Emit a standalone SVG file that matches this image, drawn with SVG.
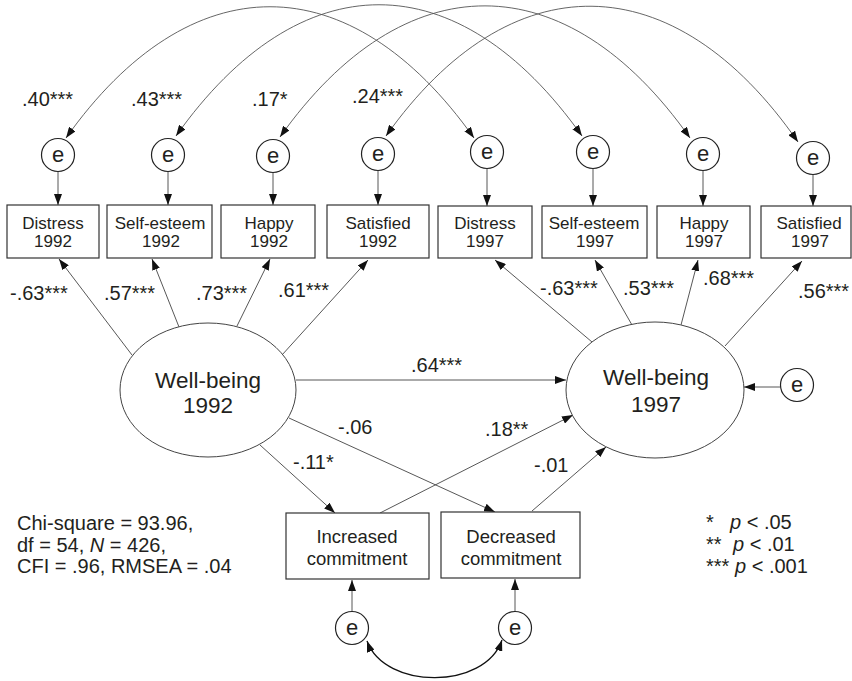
<svg xmlns="http://www.w3.org/2000/svg" width="852" height="681" viewBox="0 0 852 681">
<style>
text{font-family:"Liberation Sans",Arial,sans-serif;fill:#231f20}
.box{fill:#fff;stroke:#333;stroke-width:1.2}
.ell{fill:#fff;stroke:#444;stroke-width:1}
.err{fill:#fff;stroke:#222;stroke-width:1.2}
.bt{font-size:17px;text-anchor:middle}
.et{font-size:22.5px;text-anchor:middle}
.ct{font-size:18.5px;text-anchor:middle}
.lab{font-size:20px}
.e{font-size:22px;text-anchor:middle}
.ln{fill:none;stroke:#444;stroke-width:0.9;marker-end:url(#ah)}
.arc{fill:none;stroke:#555;stroke-width:0.9;marker-end:url(#ah);marker-start:url(#ahs)}
</style>
<defs>
<marker id="ah" viewBox="0 0 11 8" refX="11" refY="4" markerWidth="11" markerHeight="8" markerUnits="userSpaceOnUse" orient="auto"><path d="M0,0 L11,4 L0,8 z" fill="#111"/></marker>
<marker id="ahs" viewBox="0 0 11 8" refX="11" refY="4" markerWidth="11" markerHeight="8" markerUnits="userSpaceOnUse" orient="auto-start-reverse"><path d="M0,0 L11,4 L0,8 z" fill="#111"/></marker>
</defs>
<rect width="852" height="681" fill="#fff"/>

<g id="connectors">
<path class="arc" d="M66,138 C190,-37 350,-37 474,138"/>
<path class="arc" d="M176,136 C300,-39 458,-39 582,136"/>
<path class="arc" d="M280,137 C404,-38 566,-38 690,138"/>
<path class="arc" d="M386,136 C510,-39 674,-37 798,142"/>
<path class="ln" d="M58,171 L58,205"/>
<path class="ln" d="M168,171 L168,205"/>
<path class="ln" d="M273,172 L273,205"/>
<path class="ln" d="M378,170 L378,205"/>
<path class="ln" d="M487,169 L487,206"/>
<path class="ln" d="M593,168 L593,206"/>
<path class="ln" d="M703,171 L703,206"/>
<path class="ln" d="M813,175 L813,206"/>
<path class="ln" d="M132,355 L59,259"/>
<path class="ln" d="M179,327 L152,259"/>
<path class="ln" d="M237,326 L270,259"/>
<path class="ln" d="M282,355 L368,260"/>
<path class="ln" d="M592,342 L495,260"/>
<path class="ln" d="M632,325 L595,260"/>
<path class="ln" d="M681,325 L698,260"/>
<path class="ln" d="M725,346 L802,261"/>
<path class="ln" d="M296,380 L566,380"/>
<path class="ln" d="M780,387 L744,387"/>
<path class="ln" d="M289,418 L495,512"/>
<path class="ln" d="M260,445 L335,513"/>
<path class="ln" d="M380,513 L573,415"/>
<path class="ln" d="M532,511 L606,447"/>
<path class="ln" d="M352,612 L352,580"/>
<path class="ln" d="M515,612 L515,579"/>
<path d="M367,641 C385,690 485,690 502,640" fill="none" stroke="#111" stroke-width="1.3" marker-start="url(#ahs)" marker-end="url(#ah)"/>
</g>

<g id="e1"><circle class="err" cx="58" cy="155" r="16.5"/><text class="e" x="58" y="162">e</text></g>
<g id="e2"><circle class="err" cx="168" cy="155" r="16.5"/><text class="e" x="168" y="162">e</text></g>
<g id="e3"><circle class="err" cx="273" cy="156" r="16.5"/><text class="e" x="273" y="163">e</text></g>
<g id="e4"><circle class="err" cx="378" cy="154" r="16.5"/><text class="e" x="378" y="161">e</text></g>
<g id="e5"><circle class="err" cx="487" cy="152" r="16.5"/><text class="e" x="487" y="159">e</text></g>
<g id="e6"><circle class="err" cx="593" cy="152" r="16.5"/><text class="e" x="593" y="159">e</text></g>
<g id="e7"><circle class="err" cx="703" cy="154" r="16.5"/><text class="e" x="703" y="161">e</text></g>
<g id="e8"><circle class="err" cx="813" cy="158" r="16.5"/><text class="e" x="813" y="165">e</text></g>

<g id="distress1992"><rect class="box" x="7" y="205" width="92" height="53"/><text class="bt" x="53" y="229">Distress</text><text class="bt" x="53" y="247">1992</text></g>
<g id="selfesteem1992"><rect class="box" x="107" y="205" width="105" height="53"/><text class="bt" x="160" y="229">Self-esteem</text><text class="bt" x="161" y="247">1992</text></g>
<g id="happy1992"><rect class="box" x="221" y="205" width="94" height="53"/><text class="bt" x="269" y="229">Happy</text><text class="bt" x="269" y="247">1992</text></g>
<g id="satisfied1992"><rect class="box" x="327" y="205" width="102" height="53"/><text class="bt" x="378" y="229">Satisfied</text><text class="bt" x="378" y="247">1992</text></g>
<g id="distress1997"><rect class="box" x="438" y="206" width="94" height="52"/><text class="bt" x="485" y="229">Distress</text><text class="bt" x="485" y="247">1997</text></g>
<g id="selfesteem1997"><rect class="box" x="542" y="206" width="105" height="52"/><text class="bt" x="594" y="229">Self-esteem</text><text class="bt" x="595" y="247">1997</text></g>
<g id="happy1997"><rect class="box" x="657" y="206" width="93" height="52"/><text class="bt" x="704" y="229">Happy</text><text class="bt" x="704" y="247">1997</text></g>
<g id="satisfied1997"><rect class="box" x="761" y="206" width="90" height="52"/><text class="bt" x="809" y="229">Satisfied</text><text class="bt" x="810" y="247">1997</text></g>

<g id="wellbeing1992"><ellipse class="ell" cx="208" cy="390" rx="88" ry="67"/><text class="et" x="208" y="388">Well-being</text><text class="et" x="208" y="413">1992</text></g>
<g id="wellbeing1997"><ellipse class="ell" cx="655" cy="390" rx="89" ry="68"/><text class="et" x="656" y="385">Well-being</text><text class="et" x="656" y="412">1997</text></g>
<g id="e9"><circle class="err" cx="797" cy="385" r="16.5"/><text class="e" x="797" y="392">e</text></g>

<g id="increased"><rect class="box" x="286" y="513" width="143" height="66"/><text class="ct" x="357" y="543">Increased</text><text class="ct" x="357" y="565">commitment</text></g>
<g id="decreased"><rect class="box" x="441" y="512" width="139" height="66"/><text class="ct" x="511" y="543">Decreased</text><text class="ct" x="511" y="565">commitment</text></g>
<g id="e10"><circle class="err" cx="352" cy="628" r="16.5"/><text class="e" x="352" y="635">e</text></g>
<g id="e11"><circle class="err" cx="515" cy="628" r="16.5"/><text class="e" x="515" y="635">e</text></g>

<g id="labels" class="lab">
<text x="22" y="106">.40***</text>
<text x="131" y="106">.43***</text>
<text x="252" y="106">.17*</text>
<text x="352" y="103">.24***</text>
<text x="10" y="300">-.63***</text>
<text x="104" y="300">.57***</text>
<text x="196" y="300">.73***</text>
<text x="278" y="297">.61***</text>
<text x="540" y="295">-.63***</text>
<text x="623" y="295">.53***</text>
<text x="703" y="285">.68***</text>
<text x="798" y="298">.56***</text>
<text x="411" y="372">.64***</text>
<text x="338" y="434">-.06</text>
<text x="293" y="469">-.11*</text>
<text x="485" y="436">.18**</text>
<text x="534" y="472">-.01</text>
</g>

<g id="fit" class="lab">
<text x="17" y="530">Chi-square = 93.96,</text>
<text x="17" y="552">df = 54,  <tspan font-style="italic">N</tspan> = 426,</text>
<text x="17" y="573">CFI = .96,  RMSEA = .04</text>
</g>

<g id="legend" class="lab">
<text x="706" y="529">*</text><text x="730" y="529"><tspan font-style="italic">p</tspan> &lt; .05</text>
<text x="706" y="551">**</text><text x="733" y="551"><tspan font-style="italic">p</tspan> &lt; .01</text>
<text x="706" y="573">***</text><text x="735" y="573"><tspan font-style="italic">p</tspan> &lt; .001</text>
</g>
</svg>
